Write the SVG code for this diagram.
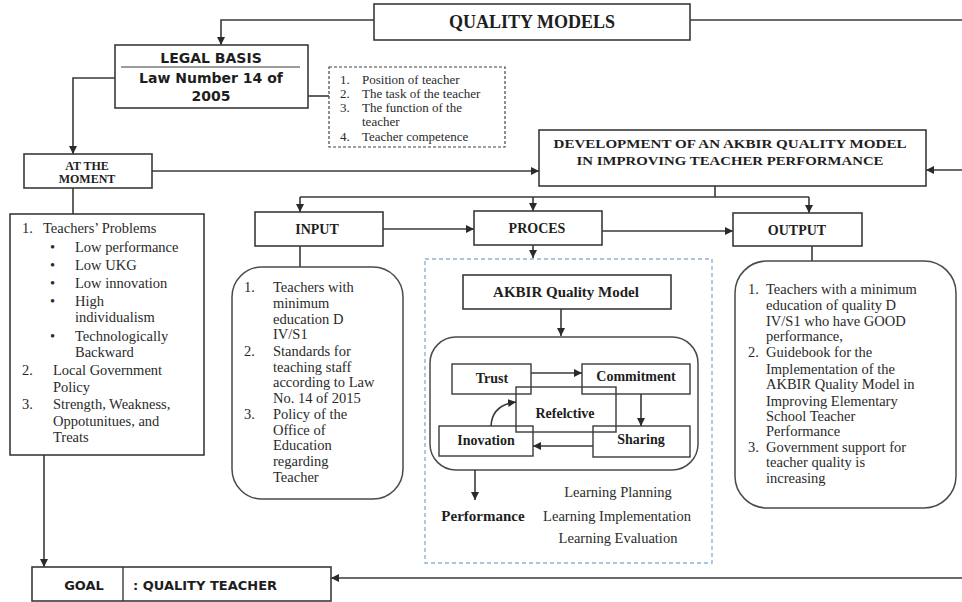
<svg xmlns="http://www.w3.org/2000/svg" width="962" height="602" viewBox="0 0 962 602">
<defs>
<marker id="ah" viewBox="0 0 8 8" markerWidth="8" markerHeight="8" refX="8" refY="4" orient="auto" markerUnits="userSpaceOnUse"><path d="M0,0 L8,4 L0,8 z" fill="#2a2a2a"/></marker>
<style>
.box{fill:#fff;stroke:#3a3a3a;stroke-width:1.6}
.obox{fill:none;stroke:#3a3a3a;stroke-width:1.4}
.rbox{fill:#fff;stroke:#4a4a4a;stroke-width:1.5}
.dash{fill:#fff;stroke:#444;stroke-width:1.2;stroke-dasharray:3 2}
.bdash{fill:none;stroke:#8db3d8;stroke-width:1.4;stroke-dasharray:4 3}
.ln{fill:none;stroke:#3a3a3a;stroke-width:1.6}
.arr{fill:none;stroke:#3a3a3a;stroke-width:1.6;marker-end:url(#ah)}
.hb{font-family:"Liberation Serif",serif;font-weight:bold;fill:#1e1e1e;text-anchor:middle}
.sb{font-family:"DejaVu Sans",sans-serif;font-weight:bold;fill:#1e1e1e}
.t{font-family:"Liberation Serif",serif;font-size:14.5px;fill:#2a2a2a}
.s{font-family:"Liberation Serif",serif;font-size:13px;fill:#2a2a2a}
.c{text-anchor:middle}
</style>
</defs>

<g id="connectors">
<path class="arr" d="M374,20 H221 V45"/>
<path class="ln" d="M690,20 H962"/>
<path class="arr" d="M115,78 H73 V154"/>
<path class="ln" d="M308,96 H329"/>
<path class="arr" d="M152,171 H539"/>
<path class="arr" d="M962,170 H926"/>
<path class="ln" d="M73,188 V214"/>
<path class="arr" d="M44,455 V567"/>
<path class="arr" d="M962,578 H331"/>
<path class="ln" d="M715,186 V197 M300,197 H809"/>
<path class="arr" d="M300,197 V212"/>
<path class="arr" d="M533,197 V211"/>
<path class="arr" d="M809,197 V213"/>
<path class="arr" d="M383,229 H474"/>
<path class="arr" d="M602,231 H733"/>
<path class="ln" d="M300,246 V267"/>
<path class="ln" d="M812,246 V261"/>
<path class="arr" d="M533,245 V258"/>
<path class="arr" d="M561,309 V336"/>
</g>

<g id="quality-models">
<rect class="box" x="374" y="4" width="316" height="36"/>
<text class="hb" x="532" y="28" font-size="18">QUALITY MODELS</text>
</g>

<g id="legal-basis">
<rect class="box" x="115" y="45" width="193" height="63"/>
<text class="sb" x="211" y="63" font-size="14" text-anchor="middle">LEGAL BASIS</text>
<line x1="121" y1="67" x2="300" y2="67" stroke="#3a3a3a" stroke-width="1.2"/>
<text class="sb" x="211" y="83" font-size="14" text-anchor="middle">Law Number 14 of</text>
<text class="sb" x="211" y="101" font-size="14" text-anchor="middle">2005</text>
</g>

<g id="legal-items">
<rect class="dash" x="329" y="67" width="176" height="80"/>
<text class="s" x="340" y="84">1.</text><text class="s" x="362" y="84">Position of teacher</text>
<text class="s" x="340" y="98">2.</text><text class="s" x="362" y="98">The task of the teacher</text>
<text class="s" x="340" y="112">3.</text><text class="s" x="362" y="112">The function of the</text>
<text class="s" x="362" y="126">teacher</text>
<text class="s" x="340" y="141">4.</text><text class="s" x="362" y="141">Teacher  competence</text>
</g>

<g id="at-the-moment">
<rect class="box" x="24" y="154" width="128" height="34"/>
<text class="hb" x="87" y="170" font-size="12">AT THE</text>
<text class="hb" x="87" y="183" font-size="12">MOMENT</text>
</g>

<g id="development">
<rect class="box" x="539" y="130" width="387" height="56"/>
<text class="hb" x="730" y="148" font-size="13" textLength="353" lengthAdjust="spacingAndGlyphs">DEVELOPMENT  OF AN AKBIR QUALITY  MODEL</text>
<text class="hb" x="730" y="165" font-size="13" textLength="307" lengthAdjust="spacingAndGlyphs">IN IMPROVING  TEACHER  PERFORMANCE</text>
</g>

<g id="problems">
<rect class="box" x="10" y="214" width="194" height="241"/>
<text class="t" x="22" y="233">1.</text><text class="t" x="43" y="233">Teachers’ Problems</text>
<text class="t" x="50" y="252">•</text><text class="t" x="75" y="252">Low performance</text>
<text class="t" x="50" y="270">•</text><text class="t" x="75" y="270">Low UKG</text>
<text class="t" x="50" y="288">•</text><text class="t" x="75" y="288">Low innovation</text>
<text class="t" x="50" y="306">•</text><text class="t" x="75" y="306">High</text>
<text class="t" x="75" y="322">individualism</text>
<text class="t" x="50" y="341">•</text><text class="t" x="75" y="341">Technologically</text>
<text class="t" x="75" y="357">Backward</text>
<text class="t" x="22" y="375">2.</text><text class="t" x="53" y="375">Local Government</text>
<text class="t" x="53" y="392">Policy</text>
<text class="t" x="22" y="409">3.</text><text class="t" x="53" y="409">Strength, Weakness,</text>
<text class="t" x="53" y="426">Oppotunitues, and</text>
<text class="t" x="53" y="442">Treats</text>
</g>

<g id="input">
<rect class="box" x="255" y="212" width="128" height="34"/>
<text class="hb" x="317" y="234" font-size="14">INPUT</text>
</g>

<g id="proces">
<rect class="box" x="474" y="211" width="128" height="34"/>
<text class="hb" x="537" y="233" font-size="14">PROCES</text>
</g>

<g id="output">
<rect class="box" x="733" y="213" width="129" height="33"/>
<text class="hb" x="797" y="235" font-size="14">OUTPUT</text>
</g>

<g id="input-list">
<rect class="rbox" x="232" y="267" width="171" height="232" rx="30"/>
<text class="t" x="244" y="292">1.</text><text class="t" x="273" y="292">Teachers with</text>
<text class="t" x="273" y="308">minimum</text>
<text class="t" x="273" y="324">education D</text>
<text class="t" x="273" y="339">IV/S1</text>
<text class="t" x="244" y="356">2.</text><text class="t" x="273" y="356">Standards for</text>
<text class="t" x="273" y="372">teaching staff</text>
<text class="t" x="273" y="387">according to Law</text>
<text class="t" x="273" y="403">No. 14 of 2015</text>
<text class="t" x="244" y="419">3.</text><text class="t" x="273" y="419">Policy of the</text>
<text class="t" x="273" y="435">Office of</text>
<text class="t" x="273" y="450">Education</text>
<text class="t" x="273" y="466">regarding</text>
<text class="t" x="273" y="482">Teacher</text>
</g>

<g id="output-list">
<rect class="rbox" x="735" y="261" width="221" height="247" rx="32"/>
<text class="t" x="748" y="294">1.</text><text class="t" x="766" y="294">Teachers with  a minimum</text>
<text class="t" x="766" y="310">education of quality D</text>
<text class="t" x="766" y="326">IV/S1 who have GOOD</text>
<text class="t" x="766" y="341">performance,</text>
<text class="t" x="748" y="357">2.</text><text class="t" x="766" y="357">Guidebook for the</text>
<text class="t" x="766" y="374">Implementation of the</text>
<text class="t" x="766" y="389">AKBIR Quality Model in</text>
<text class="t" x="766" y="406">Improving Elementary</text>
<text class="t" x="766" y="421">School Teacher</text>
<text class="t" x="766" y="436">Performance</text>
<text class="t" x="748" y="452">3.</text><text class="t" x="766" y="452">Government support for</text>
<text class="t" x="766" y="467">teacher quality is</text>
<text class="t" x="766" y="483">increasing</text>
</g>

<g id="process-detail">
<rect class="bdash" x="425" y="259" width="287" height="304"/>
</g>

<g id="akbir-model">
<rect class="box" x="463" y="275" width="208" height="34"/>
<text class="hb" x="566" y="297" font-size="15">AKBIR Quality Model</text>
</g>

<g id="cycle">
<rect class="rbox" x="430" y="337" width="268" height="133" rx="26"/>
</g>

<g id="trust">
<rect class="obox" x="452" y="364" width="79" height="30"/>
<text class="hb" x="492" y="383" font-size="14">Trust</text>
</g>
<g id="commitment">
<rect class="obox" x="582" y="364" width="108" height="30"/>
<text class="hb" x="636" y="381" font-size="14">Commitment</text>
</g>
<g id="reflective">
<rect class="obox" x="516" y="387" width="100" height="45"/>
<text class="hb" x="565" y="418" font-size="14">Refelctive</text>
</g>
<g id="inovation">
<rect class="obox" x="439" y="426" width="94" height="30"/>
<text class="hb" x="486" y="445" font-size="14">Inovation</text>
</g>
<g id="sharing">
<rect class="obox" x="593" y="426" width="97" height="31"/>
<text class="hb" x="641" y="444" font-size="14">Sharing</text>
</g>

<g id="cycle-connectors">
<path class="arr" d="M531,373 H582"/>
<path class="arr" d="M641,394 V426"/>
<path class="arr" d="M593,446 H533"/>
<path class="arr" d="M491,426 Q492,405 516,402"/>
<path class="arr" d="M475,470 V500"/>
</g>

<g id="performance">
<text class="hb" x="483" y="521" font-size="15">Performance</text>
<text class="t c" x="618" y="497">Learning Planning</text>
<text class="t c" x="617" y="521">Learning Implementation</text>
<text class="t c" x="618" y="543">Learning Evaluation</text>
</g>

<g id="goal">
<rect class="box" x="32" y="567" width="299" height="34"/>
<line x1="123" y1="567" x2="123" y2="601" stroke="#3a3a3a" stroke-width="1.4"/>
<text class="sb" x="84" y="590" font-size="13" text-anchor="middle">GOAL</text>
<text class="sb" x="133" y="590" font-size="13">: QUALITY TEACHER</text>
</g>
</svg>
